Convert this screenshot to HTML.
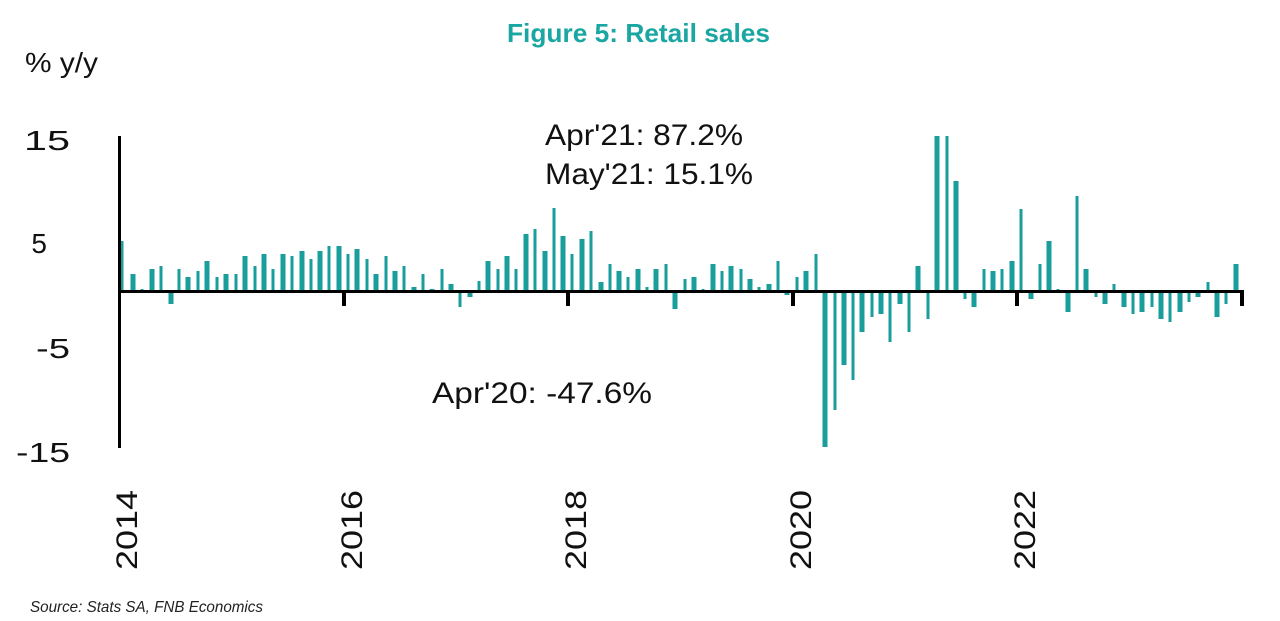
<!DOCTYPE html>
<html><head><meta charset="utf-8"><style>
html,body{margin:0;padding:0;background:#fff}
svg{display:block}
text{font-family:"Liberation Sans Narrow","Liberation Sans",sans-serif}
</style></head><body>
<svg id="c" width="1280" height="621" viewBox="0 0 1280 621" xmlns="http://www.w3.org/2000/svg">
<text x="507" y="42" font-size="26" font-weight="bold" fill="#1aa6a2" textLength="263" lengthAdjust="spacingAndGlyphs">Figure 5: Retail sales</text>
<text x="25" y="72" font-size="28" fill="#111" textLength="73" lengthAdjust="spacingAndGlyphs">% y/y</text>
<g font-size="28" fill="#111" text-anchor="end">
<text x="70" y="150" textLength="46" lengthAdjust="spacingAndGlyphs">15</text>
<text x="47" y="253">5</text>
<text x="70" y="358" textLength="34" lengthAdjust="spacingAndGlyphs">-5</text>
<text x="70" y="462" textLength="54" lengthAdjust="spacingAndGlyphs">-15</text>
</g>
<text x="545" y="145" font-size="30" fill="#111" textLength="198" lengthAdjust="spacingAndGlyphs">Apr'21: 87.2%</text>
<text x="545" y="184" font-size="30" fill="#111" textLength="208" lengthAdjust="spacingAndGlyphs">May'21: 15.1%</text>
<text x="432" y="403" font-size="30" fill="#111" textLength="220" lengthAdjust="spacingAndGlyphs">Apr'20: -47.6%</text>
<g id="bars" fill="#1a9e9b"></g>
<rect x="118" y="136" width="3" height="312" fill="#000"/>
<rect x="118" y="290" width="1126" height="3" fill="#000"/>
<g fill="#000">
<rect x="342" y="290" width="4" height="16"/>
<rect x="566" y="290" width="4" height="16"/>
<rect x="791" y="290" width="4" height="16"/>
<rect x="1015" y="290" width="4" height="16"/>
<rect x="1240" y="290" width="4" height="16"/>
</g>
<g font-size="30" fill="#111" text-anchor="middle">
<text transform="translate(137,530) rotate(-90)" textLength="80" lengthAdjust="spacingAndGlyphs">2014</text>
<text transform="translate(362,530) rotate(-90)" textLength="80" lengthAdjust="spacingAndGlyphs">2016</text>
<text transform="translate(586,530) rotate(-90)" textLength="80" lengthAdjust="spacingAndGlyphs">2018</text>
<text transform="translate(811,530) rotate(-90)" textLength="80" lengthAdjust="spacingAndGlyphs">2020</text>
<text transform="translate(1035,530) rotate(-90)" textLength="80" lengthAdjust="spacingAndGlyphs">2022</text>
</g>
<text x="30" y="612" font-size="16" font-style="italic" fill="#222" textLength="233" lengthAdjust="spacingAndGlyphs">Source: Stats SA, FNB Economics</text>
</svg>
<script>
var d=[[122,241],[133,274],[142,289],[152,269],[161,266],[171,-304],[179,269],[188,277],[198,271],[207,261],[217,277],[226,274],[236,274],[245,256],[255,266],[264,254],[273,269],[283,254],[292,256],[302,251],[311,259],[320,251],[329,246],[339,246],[348,254],[357,249],[367,259],[376,274],[386,256],[395,271],[404,266],[414,287],[423,274],[432,289],[442,269],[451,284],[460,-307],[470,-297],[479,281],[488,261],[498,269],[507,256],[516,269],[526,234],[535,229],[545,251],[554,208],[563,236],[572,254],[582,239],[591,231],[601,282],[610,264],[619,271],[628,277],[638,269],[647,287],[656,269],[666,264],[675,-309],[685,279],[694,277],[703,289],[713,264],[722,271],[731,266],[741,269],[750,279],[759,287],[769,284],[778,261],[787,-295],[797,277],[806,271],[816,254],[825,-447],[835,-410],[844,-365],[853,-380],[862,-332],[872,-317],[881,-314],[890,-342],[900,-304],[909,-332],[918,266],[928,-319],[937,136],[947,136],[956,181],[965,-299],[974,-307],[984,269],[993,271],[1002,269],[1012,261],[1021,209],[1031,-299],[1040,264],[1049,241],[1058,289],[1068,-312],[1077,196],[1086,269],[1096,-297],[1105,-304],[1114,284],[1124,-307],[1133,-314],[1142,-312],[1152,-307],[1161,-319],[1170,-322],[1180,-312],[1189,-302],[1198,-297],[1208,282],[1217,-317],[1226,-304],[1236,264]];
var g=document.getElementById('bars'),s='';
d.forEach(function(b,i){var w=(i%2)?5:3;var x=b[0]-w/2;if(b[1]>0){s+='<rect x="'+x+'" y="'+b[1]+'" width="'+w+'" height="'+(291-b[1])+'"/>';}else{s+='<rect x="'+x+'" y="291" width="'+w+'" height="'+(-b[1]-291)+'"/>';}});
g.innerHTML=s;
</script>
</body></html>
